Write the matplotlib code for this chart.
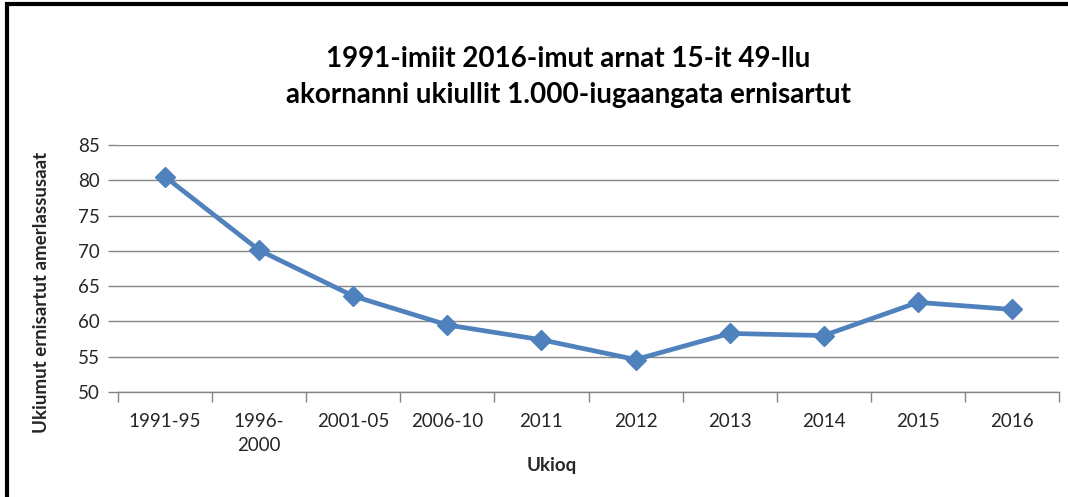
import matplotlib
matplotlib.use("Agg")
import matplotlib.pyplot as plt
from matplotlib.patches import Rectangle
import numpy as np

# data
periods = ["1991-95", "1996-\n2000", "2001-05", "2006-10", "2011",
           "2012", "2013", "2014", "2015", "2016"]
rates = [80.5, 70.1, 63.6, 59.5, 57.4, 54.6, 58.3, 58.0, 62.7, 61.7]
y_ticks = [50, 55, 60, 65, 70, 75, 80, 85]

title = "1991-imiit 2016-imut arnat 15-it 49-llu\nakornanni ukiullit 1.000-iugaangata ernisartut"
x_label = "Ukioq"
y_label = "Ukiumut ernisartut amerlassusaat"

LINE_COLOR = "#4F81BD"
GRID_COLOR = "#868686"
TEXT_COLOR = "#262626"

plt.rcParams["font.family"] = ["Lato", "DejaVu Sans"]

W, H = 1068, 497
fig = plt.figure(figsize=(W / 100, H / 100), dpi=100)

# outer frame (right and bottom edges fall outside the image)
fig.patches.append(Rectangle((7 / W, -0.1), 1.2, 1 - 4 / H + 0.1,
                             transform=fig.transFigure, fill=False,
                             edgecolor="black", linewidth=3))

ax = fig.add_axes([118 / W, 1 - 392 / H, (1059 - 118) / W, (392 - 145) / H])

x = np.arange(len(periods))
ax.plot(x, rates, color=LINE_COLOR, linewidth=3.4, marker="D",
        markersize=10, markerfacecolor=LINE_COLOR, markeredgecolor=LINE_COLOR,
        zorder=3)

ax.set_xlim(-0.5, len(periods) - 0.5)
ax.set_ylim(50, 85)
ax.set_yticks(y_ticks)
ax.yaxis.grid(True, color=GRID_COLOR, linewidth=1)
ax.set_axisbelow(True)

for side in ["top", "right", "left"]:
    ax.spines[side].set_visible(False)
ax.spines["bottom"].set_color(GRID_COLOR)
ax.spines["bottom"].set_linewidth(1)

# category ticks sit between labels, like Excel
ax.set_xticks(np.arange(len(periods) + 1) - 0.5, minor=False)
ax.set_xticklabels([])
ax.set_xticks(x, minor=True)
ax.set_xticklabels(periods, minor=True, linespacing=1.5)
ax.tick_params(axis="x", which="major", length=7, color=GRID_COLOR, width=1)
ax.tick_params(axis="x", which="minor", length=0, pad=15,
               labelsize=13.5, labelcolor=TEXT_COLOR)
ax.tick_params(axis="y", length=7, color=GRID_COLOR, width=1, pad=6,
               labelsize=13.5, labelcolor=TEXT_COLOR)

fig.text(568 / W, 1 - 77 / H, title, ha="center", va="center",
         fontsize=20, fontweight="bold", color="black", linespacing=1.45)
fig.text(552 / W, 1 - 466 / H, x_label, ha="center", va="center",
         fontsize=13.5, fontweight="bold", color=TEXT_COLOR)
fig.text(42 / W, 1 - 292 / H, y_label, ha="center", va="center",
         rotation=90, fontsize=13.5, fontweight="bold", color=TEXT_COLOR)

fig.savefig("out.png", dpi=100)
